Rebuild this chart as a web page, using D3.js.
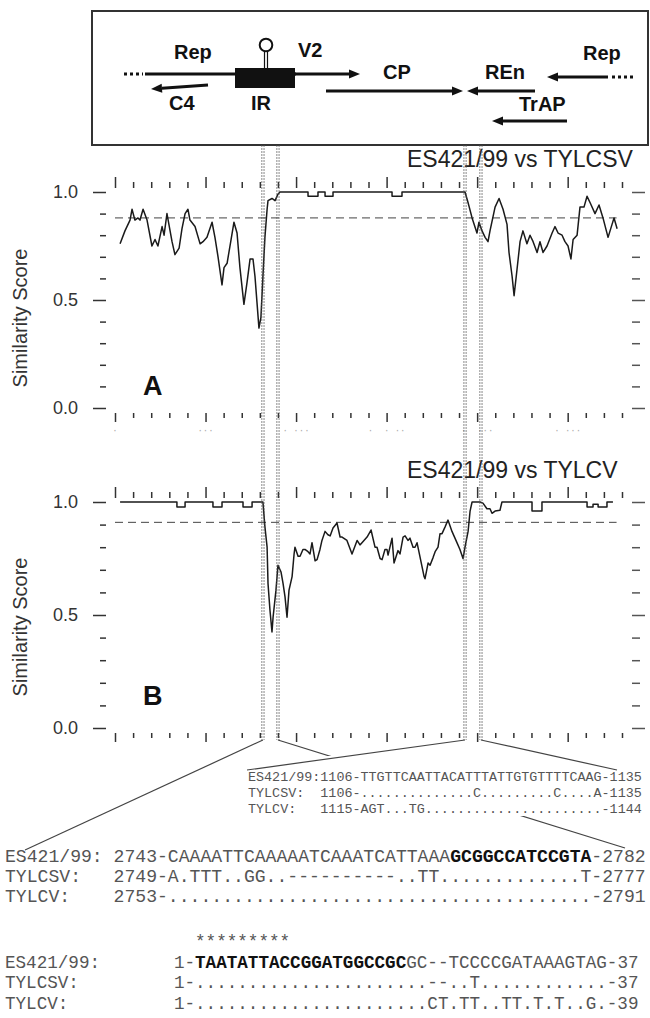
<!DOCTYPE html>
<html>
<head>
<meta charset="utf-8">
<script src="https://cdn.jsdelivr.net/npm/d3@7"></script>
<style>
  body { margin: 0; background: #fff; }
  svg { display: block; }
  .mono { font-family: "Courier New", "Liberation Mono", monospace; white-space: pre; }
</style>
</head>
<body>
<svg id="fig" width="650" height="1018"></svg>
<script>
// similarity scores along the genome window, [position (nt), score]
const seriesA = [
  [28,0.76],[55,0.82],[83,0.87],[94,0.92],[110,0.87],[127,0.88],[138,0.87],[155,0.92],[177,0.87],
  [204,0.75],[221,0.78],[237,0.75],[260,0.84],[271,0.80],[287,0.90],[315,0.77],[331,0.71],[354,0.74],
  [370,0.83],[387,0.90],[403,0.92],[414,0.87],[442,0.84],[470,0.76],[486,0.77],[508,0.79],[536,0.86],
  [552,0.79],[569,0.70],[591,0.57],[602,0.65],[619,0.67],[641,0.78],[657,0.86],[674,0.81],[690,0.65],
  [712,0.48],[729,0.58],[746,0.69],[762,0.69],[773,0.61],[784,0.49],[795,0.37],[806,0.42],[817,0.61],
  [828,0.79],[840,0.92],[845,0.96],[867,0.97],[884,0.96],[900,0.99],[911,1.0],
  [1066,1.0],[1066,0.98],[1121,0.98],[1121,1.0],[1160,1.0],[1160,0.98],[1204,0.98],[1204,1.0],
  [1530,1.0],[1530,0.98],[1585,0.98],[1585,1.0],[1933,1.0],
  [1950,0.95],[1972,0.88],[1999,0.81],[2010,0.86],[2027,0.82],[2044,0.79],[2060,0.77],[2071,0.82],
  [2099,0.93],[2121,0.97],[2143,0.92],[2165,0.85],[2176,0.72],[2193,0.61],[2204,0.52],[2220,0.64],
  [2237,0.77],[2253,0.82],[2275,0.76],[2292,0.80],[2309,0.77],[2331,0.72],[2347,0.77],[2364,0.72],
  [2386,0.75],[2414,0.81],[2430,0.84],[2447,0.81],[2469,0.80],[2485,0.77],[2502,0.75],[2518,0.69],
  [2530,0.78],[2552,0.80],[2568,0.93],[2590,0.93],[2607,0.98],[2624,0.95],[2651,0.90],[2673,0.94],
  [2695,0.88],[2723,0.79],[2745,0.85],[2756,0.88],[2773,0.83]
];
const seriesB = [
  [28,1],[342,1],[342,0.978],[387,0.978],[387,1],[541,1],[541,0.978],[591,0.978],[591,1],
  [707,1],[707,0.978],[757,0.978],[757,1],[817,1],
  [828,0.89],[840,0.80],[845,0.64],[856,0.52],[867,0.425],[873,0.49],[889,0.61],[900,0.72],[917,0.69],
  [928,0.64],[939,0.58],[950,0.49],[961,0.61],[978,0.67],[989,0.77],[994,0.80],[1011,0.76],[1022,0.76],
  [1038,0.79],[1049,0.79],[1066,0.78],[1077,0.77],[1088,0.82],[1105,0.74],[1116,0.745],[1132,0.79],
  [1143,0.83],[1160,0.87],[1176,0.855],[1188,0.85],[1204,0.885],[1226,0.907],[1243,0.845],[1254,0.845],
  [1281,0.83],[1309,0.77],[1337,0.83],[1353,0.81],[1364,0.82],[1375,0.83],[1392,0.845],[1414,0.876],
  [1436,0.80],[1447,0.80],[1464,0.75],[1475,0.745],[1491,0.79],[1502,0.79],[1508,0.765],[1530,0.84],
  [1541,0.73],[1563,0.785],[1574,0.77],[1591,0.845],[1602,0.85],[1618,0.83],[1629,0.84],[1646,0.80],
  [1657,0.80],[1668,0.82],[1685,0.755],[1707,0.67],[1712,0.66],[1729,0.73],[1740,0.72],[1757,0.755],
  [1768,0.78],[1784,0.80],[1795,0.86],[1806,0.86],[1823,0.89],[1839,0.92],[1861,0.87],[1883,0.83],
  [1905,0.79],[1922,0.75],[1933,0.80],[1950,0.87],[1961,0.96],[1972,1],[2016,1],[2032,0.995],
  [2054,0.97],[2071,0.97],[2082,0.95],[2099,0.96],[2126,0.963],[2137,1],[2303,1],[2303,0.96],
  [2358,0.96],[2358,1],[2607,1],[2607,0.978],[2640,0.978],[2640,0.99],[2668,0.99],[2668,0.978],
  [2717,0.978],[2717,1],[2750,1]
];

// threshold (dashed) lines
const thresholdA = 0.88;
const thresholdB = 0.91;
const titles = ["ES421/99 vs TYLCSV", "ES421/99 vs TYLCV"];
const panelLetters = ["A", "B"];
const yTickValues = d3.range(11).map(i => i / 10);
const xTickValues = d3.range(0, 2801, 100);
const faintLabels = [[0, "·"], [500, "···"], [1000, "· ···"], [1500, "·  · ··"], [2000, "·  ···"], [2500, "· ···"]];

// breakpoints marked by the vertical guide pairs (nt)
const guidePairs = [[817, 900], [1933, 2021]];

// alignments
const alignRight = [
  [["ES421/99:1106-TTGTTCAATTACATTTATTGTGTTTTCAAG-1135", false]],
  [["TYLCSV:  1106-..............C.........C....A-1135", false]],
  [["TYLCV:   1115-AGT...TG......................-1144", false]]
];
const alignIR1 = [
  [["ES421/99: 2743-CAAAATTCAAAAATCAAATCATTAAA", false], ["GCGGCCATCCGTA", true], ["-2782", false]],
  [["TYLCSV:   2749-A.TTT..GG..----------..TT.............T-2777", false]],
  [["TYLCV:    2753-.......................................-2791", false]]
];
const alignIR2 = [
  [["                  *********", false]],
  [["ES421/99:       1-", false], ["TAATATTACCGGATGGCCGC", true], ["GC--TCCCCGATAAAGTAG-37", false]],
  [["TYLCSV:         1-......................--..T............-37", false]],
  [["TYLCV:          1-......................CT.TT..TT.T.T..G.-39", false]]
];

// gene map (schematic, in box pixels)
const geneArrows = [
  { from: 208, to: 151, y1: 85, y2: 89 },   // C4
  { from: 295, to: 360, y1: 74, y2: 74 },   // V2
  { from: 326, to: 463, y1: 91, y2: 91 },   // CP
  { from: 535, to: 467, y1: 91, y2: 91 },   // REn
  { from: 608, to: 547, y1: 77, y2: 77 },   // Rep (right)
  { from: 567, to: 492, y1: 121, y2: 121 }  // TrAP
];
const geneLabels = [
  ["Rep", 174, 59], ["V2", 298, 57], ["C4", 169, 110], ["IR", 251, 110],
  ["CP", 383, 79], ["REn", 485, 79], ["Rep", 583, 60], ["TrAP", 519, 111]
];

const svg = d3.select("#fig");
const x = d3.scaleLinear().domain([0, 2800]).range([115, 622]);

const panels = [
  { data: seriesA, thr: thresholdA, top: 192, bottom: 408, titleY: 167, letterY: 395, labelY: 318, faint: true },
  { data: seriesB, thr: thresholdB, top: 502, bottom: 728, titleY: 478, letterY: 705, labelY: 627, faint: false }
];

// ---------- gene map box ----------
const map = svg.append("g");
map.append("rect").attr("x", 92).attr("y", 11).attr("width", 556).attr("height", 134)
  .attr("fill", "#fff").attr("stroke", "#333").attr("stroke-width", 2);

function drawArrow(g, a) {
  const ang = Math.atan2(a.y2 - a.y1, a.to - a.from);
  const L = 11, W = 4.5;
  const bx = a.to - L * Math.cos(ang), by = a.y2 - L * Math.sin(ang);
  g.append("line").attr("x1", a.from).attr("y1", a.y1).attr("x2", bx).attr("y2", by)
    .attr("stroke", "#111").attr("stroke-width", 3);
  const px = -Math.sin(ang) * W, py = Math.cos(ang) * W;
  g.append("path")
    .attr("d", `M${a.to},${a.y2}L${bx + px},${by + py}L${bx - px},${by - py}Z`)
    .attr("fill", "#111");
}

// Rep backbone through the IR
map.append("line").attr("x1", 145).attr("x2", 296).attr("y1", 74).attr("y2", 74)
  .attr("stroke", "#111").attr("stroke-width", 3);
map.append("line").attr("x1", 124).attr("x2", 143).attr("y1", 74).attr("y2", 74)
  .attr("stroke", "#111").attr("stroke-width", 3).attr("stroke-dasharray", "3,3");
map.append("line").attr("x1", 612).attr("x2", 636).attr("y1", 77).attr("y2", 77)
  .attr("stroke", "#111").attr("stroke-width", 3).attr("stroke-dasharray", "3,3");
geneArrows.forEach(a => drawArrow(map, a));
map.append("rect").attr("x", 235).attr("y", 68).attr("width", 60).attr("height", 20).attr("fill", "#111");
map.append("line").attr("x1", 264.5).attr("x2", 264.5).attr("y1", 51).attr("y2", 68).attr("stroke", "#111").attr("stroke-width", 1.2);
map.append("line").attr("x1", 267.5).attr("x2", 267.5).attr("y1", 51).attr("y2", 68).attr("stroke", "#111").attr("stroke-width", 1.2);
map.append("circle").attr("cx", 266).attr("cy", 45).attr("r", 6.3)
  .attr("fill", "#fff").attr("stroke", "#111").attr("stroke-width", 2);
map.selectAll("text.gene").data(geneLabels).join("text")
  .attr("class", "gene")
  .attr("x", d => d[1]).attr("y", d => d[2])
  .attr("font-family", "Liberation Sans, Arial, sans-serif")
  .attr("font-weight", "bold").attr("font-size", 20).attr("fill", "#111")
  .text(d => d[0]);

// ---------- similarity panels ----------
panels.forEach((p, i) => {
  const y = d3.scaleLinear().domain([0, 1]).range([p.bottom, p.top]);
  const g = svg.append("g");
  const isMajor = d => Math.round(d * 10) % 5 === 0;

  // left axis
  const left = g.append("g").attr("transform", "translate(106,0)")
    .call(d3.axisLeft(y).tickValues(yTickValues).tickSize(6).tickPadding(22)
      .tickFormat(d => isMajor(d) ? d3.format(".1f")(d) : ""));
  left.select(".domain").remove();
  left.selectAll(".tick line").attr("stroke", "#333").attr("stroke-width", 1.5)
    .attr("x2", d => isMajor(d) ? -13 : -6);
  left.selectAll(".tick text").attr("font-family", "Liberation Sans, Arial, sans-serif")
    .attr("font-size", 18).attr("fill", "#333");

  // right axis
  const right = g.append("g").attr("transform", "translate(632,0)")
    .call(d3.axisRight(y).tickValues(yTickValues).tickSize(8).tickFormat(""));
  right.select(".domain").remove();
  right.selectAll(".tick line").attr("stroke", "#555").attr("stroke-width", 1.5)
    .attr("x2", d => isMajor(d) ? 13 : 8);

  // top and bottom ticks
  const xMajor = d => d % 500 === 0;
  const topAx = g.append("g").attr("transform", `translate(0,${p.top - 4})`)
    .call(d3.axisTop(x).tickValues(xTickValues).tickSize(6).tickFormat(""));
  topAx.select(".domain").remove();
  topAx.selectAll(".tick line").attr("stroke", "#333").attr("stroke-width", 1.5)
    .attr("y2", d => xMajor(d) ? -11 : -6);
  const botAx = g.append("g").attr("transform", `translate(0,${p.bottom + 5})`)
    .call(d3.axisBottom(x).tickValues(xTickValues).tickSize(5).tickFormat(""));
  botAx.select(".domain").remove();
  botAx.selectAll(".tick line").attr("stroke", "#333").attr("stroke-width", 1.5)
    .attr("y2", d => xMajor(d) ? 9 : 5);

  if (p.faint) {
    g.selectAll("text.faint").data(faintLabels).join("text")
      .attr("class", "faint mono")
      .attr("x", d => x(d[0])).attr("y", p.bottom + 25)
      .attr("text-anchor", "middle").attr("font-size", 9).attr("fill", "#aaa")
      .text(d => d[1]);
  }

  // threshold
  g.append("line").attr("x1", x(0)).attr("x2", x(2770))
    .attr("y1", y(p.thr)).attr("y2", y(p.thr))
    .attr("stroke", "#444").attr("stroke-width", 1).attr("stroke-dasharray", "8,5");

  // similarity line
  g.append("path").datum(p.data)
    .attr("fill", "none").attr("stroke", "#1a1a1a").attr("stroke-width", 1.5)
    .attr("stroke-linejoin", "round")
    .attr("d", d3.line().x(d => x(d[0])).y(d => y(d[1])));

  // title, letter, y label
  g.append("text").attr("x", 407).attr("y", p.titleY)
    .attr("font-family", "Liberation Sans, Arial, sans-serif").attr("font-size", 23).attr("fill", "#222")
    .text(titles[i]);
  g.append("text").attr("x", 143).attr("y", p.letterY)
    .attr("font-family", "Liberation Sans, Arial, sans-serif").attr("font-weight", "bold")
    .attr("font-size", 27).attr("fill", "#111").text(panelLetters[i]);
  g.append("text").attr("transform", `translate(27,${p.labelY}) rotate(-90)`)
    .attr("text-anchor", "middle")
    .attr("font-family", "Liberation Sans, Arial, sans-serif").attr("font-size", 20).attr("fill", "#333")
    .text("Similarity Score");
});

// ---------- guide lines and zoom lines ----------
const guides = svg.append("g");
const guideTop = 145, guideBottom = 740;
guidePairs.flat().forEach(pos => {
  [-1.1, 1.1].forEach(o => {
    guides.append("line").attr("x1", x(pos) + o).attr("x2", x(pos) + o)
      .attr("y1", guideTop).attr("y2", guideBottom)
      .attr("stroke", "#555").attr("stroke-width", 0.7).attr("stroke-dasharray", "2,1");
  });
});

// IR pair -> lower alignments (line hidden behind the 1106 block)
const zoomIR = [[guidePairs[0][0], 25, 850], [guidePairs[0][1], 625, 848]];
zoomIR.forEach(z => guides.append("line")
  .attr("x1", x(z[0])).attr("y1", guideBottom).attr("x2", z[1]).attr("y2", z[2])
  .attr("stroke", "#444").attr("stroke-width", 1.2));
guides.append("rect").attr("x", 240).attr("y", 756).attr("width", 410).attr("height", 60).attr("fill", "#fff");
const zoomR = [[guidePairs[1][0], 247, 770], [guidePairs[1][1], 617, 770]];
zoomR.forEach(z => guides.append("line")
  .attr("x1", x(z[0])).attr("y1", guideBottom).attr("x2", z[1]).attr("y2", z[2])
  .attr("stroke", "#444").attr("stroke-width", 1.2));

// ---------- alignment text ----------
function drawBlock(rows, x0, y0, dy, size) {
  rows.forEach((segs, r) => {
    const t = svg.append("text").attr("class", "mono")
      .attr("xml:space", "preserve")
      .attr("x", x0).attr("y", y0 + r * dy).attr("font-size", size);
    segs.forEach(s => t.append("tspan")
      .attr("font-weight", s[1] ? "bold" : "normal")
      .attr("fill", s[1] ? "#111" : "#555")
      .text(s[0]));
  });
}
drawBlock(alignRight, 248, 781, 16, 13.4);
drawBlock(alignIR1, 5, 862, 20, 18.1);
drawBlock(alignIR2, 5, 947, 20.5, 17.6);
</script>
</body>
</html>
